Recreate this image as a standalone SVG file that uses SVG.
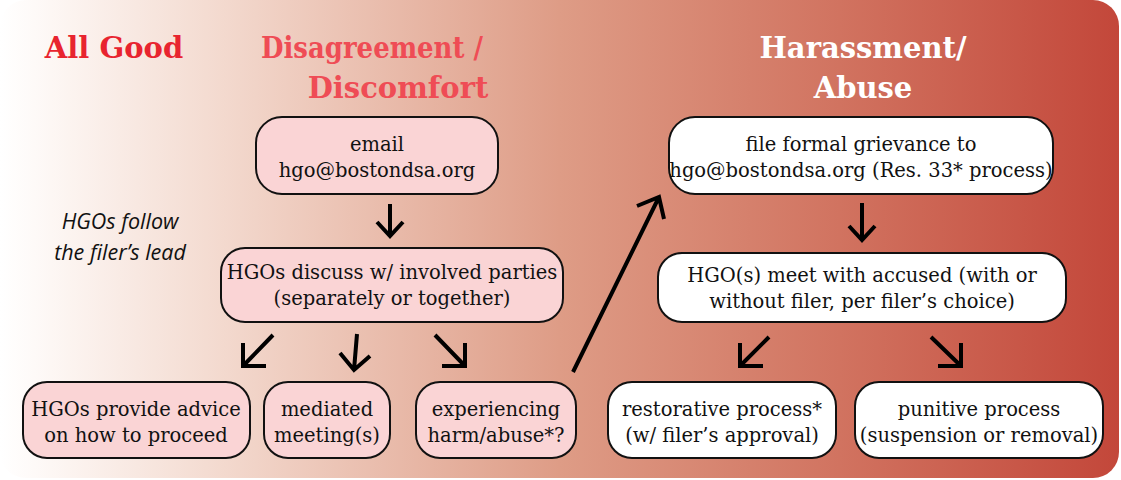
<svg xmlns="http://www.w3.org/2000/svg" width="1121" height="480" viewBox="0 0 1121 480">
<defs>
<linearGradient id="bg" x1="0" y1="0" x2="1" y2="0">
<stop offset="0" stop-color="#ffffff"/>
<stop offset="0.03" stop-color="#fefaf8"/>
<stop offset="0.2" stop-color="#f3d9ce"/>
<stop offset="0.5" stop-color="#de9c86"/>
<stop offset="0.75" stop-color="#d17360"/>
<stop offset="1" stop-color="#c3473a"/>
</linearGradient>
</defs>
<style>
.hd{font-family:"DejaVu Serif","Liberation Serif",serif;font-weight:bold;font-size:29px;text-anchor:middle}
.hs{font-family:"DejaVu Serif","Liberation Serif",serif;font-weight:bold;font-size:29px;text-anchor:start}
.t{font-family:"DejaVu Serif","Liberation Serif",serif;font-size:19.5px;text-anchor:middle;fill:#111}
.it{font-family:"Open Sans","Liberation Sans",sans-serif;font-style:italic;font-size:21.5px;text-anchor:middle;fill:#111}
.pink{fill:#fad4d5;stroke:#111;stroke-width:2}
.wht{fill:#ffffff;stroke:#111;stroke-width:2}
.ar{fill:none;stroke:#000;stroke-width:4;stroke-linecap:butt;stroke-linejoin:miter}
</style>
<rect x="0" y="0" width="1119" height="478" rx="26" fill="url(#bg)"/>
<g id="headers">
<text class="hd" x="114" y="58" fill="#e8242f">All Good</text>
<text class="hs" x="261" y="58" fill="#ef4c55" textLength="222" lengthAdjust="spacingAndGlyphs">Disagreement /</text>
<text class="hd" x="398" y="98" fill="#ef4c55">Discomfort</text>
<text class="hd" x="863" y="58" fill="#ffffff">Harassment/</text>
<text class="hd" x="863" y="98" fill="#ffffff">Abuse</text>
</g>
<g id="note">
<text class="it" x="120" y="229">HGOs follow</text>
<text class="it" x="120" y="260">the filer’s lead</text>
</g>
<g id="n-email">
<rect class="pink" x="256" y="117" width="242" height="77" rx="26"/>
<text class="t" x="377" y="151">email</text>
<text class="t" x="377" y="177">hgo@bostondsa.org</text>
</g>
<g id="n-discuss">
<rect class="pink" x="221" y="248" width="342" height="74" rx="24"/>
<text class="t" x="392" y="279">HGOs discuss w/ involved parties</text>
<text class="t" x="392" y="305">(separately or together)</text>
</g>
<g id="n-advice">
<rect class="pink" x="23" y="382" width="227" height="76" rx="24"/>
<text class="t" x="136" y="416">HGOs provide advice</text>
<text class="t" x="136" y="442">on how to proceed</text>
</g>
<g id="n-mediated">
<rect class="pink" x="264" y="382" width="126" height="76" rx="24"/>
<text class="t" x="327" y="416">mediated</text>
<text class="t" x="327" y="442">meeting(s)</text>
</g>
<g id="n-harm">
<rect class="pink" x="416" y="382" width="160" height="76" rx="24"/>
<text class="t" x="496" y="416">experiencing</text>
<text class="t" x="496" y="442">harm/abuse*?</text>
</g>
<g id="n-grievance">
<rect class="wht" x="669" y="117" width="384" height="77" rx="26"/>
<text class="t" x="861" y="151">file formal grievance to</text>
<text class="t" x="861" y="177">hgo@bostondsa.org (Res. 33* process)</text>
</g>
<g id="n-meet">
<rect class="wht" x="658" y="253" width="408" height="69" rx="24"/>
<text class="t" x="862" y="282">HGO(s) meet with accused (with or</text>
<text class="t" x="862" y="308">without filer, per filer’s choice)</text>
</g>
<g id="n-restorative">
<rect class="wht" x="608" y="382" width="228" height="76" rx="24"/>
<text class="t" x="722" y="416">restorative process*</text>
<text class="t" x="722" y="442">(w/ filer’s approval)</text>
</g>
<g id="n-punitive">
<rect class="wht" x="855" y="382" width="248" height="76" rx="24"/>
<text class="t" x="979" y="416">punitive process</text>
<text class="t" x="979" y="442">(suspension or removal)</text>
</g>
<g id="connectors">
<path class="ar" d="M390 204 V236 M377 222 L390 236 L403 222"/>
<path class="ar" d="M273 335 L243 366 M243 343 V366 H266"/>
<path class="ar" d="M357 334 L354 370 M340 353 L354 370 L370 356"/>
<path class="ar" d="M435 335 L465 366 M465 343 V366 H442"/>
<path class="ar" d="M573 372 L659 197 M637 206 L659 197 L664 219"/>
<path class="ar" d="M862 203 V240 M849 226 L862 240 L875 226"/>
<path class="ar" d="M769 337 L740 366 M740 343 V366 H763"/>
<path class="ar" d="M931 337 L961 366 M961 343 V366 H938"/>
</g>
</svg>
